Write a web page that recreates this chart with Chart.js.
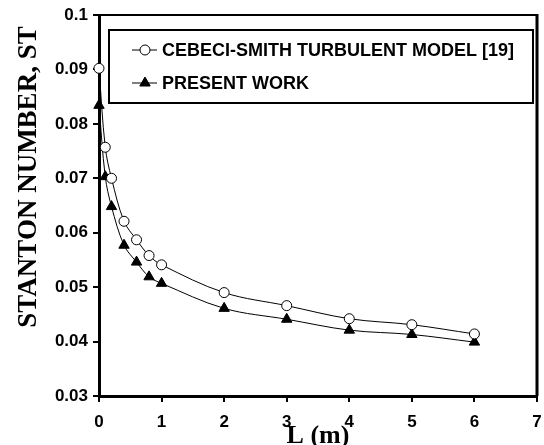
<!DOCTYPE html>
<html>
<head>
<meta charset="utf-8">
<script src="https://cdn.jsdelivr.net/npm/chart.js@4/dist/chart.umd.min.js"></script>
<style>
  html, body { margin: 0; padding: 0; background: #fff; }
  #wrap { width: 544px; height: 445px; }
</style>
</head>
<body>
<div id="wrap"><canvas id="chart" width="544" height="445"></canvas></div>
<script>
// data
const lengths = [0, 0.1, 0.2, 0.4, 0.6, 0.8, 1, 2, 3, 4, 5, 6];
const cebeciSmith = [0.0902, 0.0757, 0.0700, 0.0621, 0.0587, 0.0558, 0.0541, 0.0490, 0.0466, 0.0442, 0.0431, 0.0414];
const presentWork = [0.0834, 0.0703, 0.0648, 0.0577, 0.0546, 0.0519, 0.0507, 0.0461, 0.0441, 0.0421, 0.0413, 0.0399];
const seriesNames = ['CEBECI-SMITH TURBULENT MODEL [19]', 'PRESENT WORK'];
const xTicks = [0, 1, 2, 3, 4, 5, 6, 7];
const yTicks = [0.03, 0.04, 0.05, 0.06, 0.07, 0.08, 0.09, 0.1];
const xTitle = 'L (m)';
const yTitle = 'STANTON NUMBER, ST';

const sans = '"Liberation Sans", Arial, sans-serif';
const serif = '"Liberation Serif", "Times New Roman", serif';

const toPoints = (ys) => lengths.map((x, i) => ({ x: x, y: ys[i] }));

const series = [
  { label: seriesNames[0], data: toPoints(cebeciSmith), pointStyle: 'circle', pointRadius: 5, bg: '#fff' },
  { label: seriesNames[1], data: toPoints(presentWork), pointStyle: 'triangle', pointRadius: 6, bg: '#000' },
];

// top/right frame, axis titles and the boxed legend
const extras = {
  id: 'extras',
  beforeDatasetsDraw(chart) {
    const { ctx, chartArea: a } = chart;
    ctx.save();
    ctx.strokeStyle = '#000';
    ctx.lineWidth = 2;
    ctx.beginPath();
    ctx.moveTo(a.left, a.top);
    ctx.lineTo(a.right, a.top);
    ctx.stroke();
    ctx.lineWidth = 3;
    ctx.beginPath();
    ctx.moveTo(a.right, a.top - 1);
    ctx.lineTo(a.right, a.bottom);
    ctx.stroke();
    ctx.restore();
  },
  afterDraw(chart) {
    const { ctx, chartArea: a } = chart;
    ctx.save();
    ctx.fillStyle = '#000';
    ctx.font = 'bold 26px ' + serif;
    ctx.textAlign = 'center';
    ctx.textBaseline = 'alphabetic';
    ctx.fillText(xTitle, (a.left + a.right) / 2, 443);
    ctx.font = 'bold 27px ' + serif;
    ctx.save();
    ctx.translate(36, 177);
    ctx.rotate(-Math.PI / 2);
    ctx.fillText(yTitle, 0, 0);
    ctx.restore();

    // legend
    ctx.strokeStyle = '#000';
    ctx.lineWidth = 2;
    ctx.strokeRect(109, 30, 424, 73);
    chart.data.datasets.forEach((ds, i) => {
      const y = 50 + i * 33;
      ctx.lineWidth = 1;
      ctx.beginPath();
      ctx.moveTo(132, y);
      ctx.lineTo(157, y);
      ctx.stroke();
      ctx.fillStyle = ds.pointBackgroundColor;
      ctx.strokeStyle = '#000';
      Chart.helpers.drawPoint(ctx, {
        pointStyle: ds.pointStyle, radius: ds.pointRadius, borderWidth: 1, rotation: 0,
      }, 145, y);
      ctx.fillStyle = '#000';
      ctx.font = 'bold 18px ' + sans;
      ctx.textAlign = 'left';
      ctx.textBaseline = 'middle';
      ctx.fillText(ds.label, 162, y + 1);
    });
    ctx.restore();
  },
};

new Chart(document.getElementById('chart'), {
  type: 'scatter',
  data: {
    datasets: series.map((s) => ({
      label: s.label,
      data: s.data,
      showLine: true,
      borderColor: '#000',
      borderWidth: 1,
      tension: 0.35,
      pointStyle: s.pointStyle,
      pointRadius: s.pointRadius,
      pointHoverRadius: s.pointRadius,
      pointBackgroundColor: s.bg,
      pointBorderColor: '#000',
      pointBorderWidth: 1,
      clip: false,
    })),
  },
  options: {
    responsive: false,
    animation: false,
    devicePixelRatio: 1,
    layout: { padding: { left: 0, top: 15, right: 3, bottom: 0 } },
    plugins: {
      legend: { display: false },
      tooltip: { enabled: false },
    },
    scales: {
      x: {
        type: 'linear',
        min: xTicks[0],
        max: xTicks[xTicks.length - 1],
        afterBuildTicks: (s) => { s.ticks = xTicks.map((v) => ({ value: v })); },
        afterFit: (s) => { s.height = 49; s.paddingLeft = 0; s.paddingRight = 0; },
        ticks: {
          color: '#000',
          font: { family: sans, size: 17, weight: 'bold' },
          padding: 10,
          maxRotation: 0,
        },
        grid: { drawOnChartArea: false, drawTicks: true, tickLength: 6, color: '#000', lineWidth: 2 },
        border: { display: true, color: '#000', width: 3 },
      },
      y: {
        min: yTicks[0],
        max: yTicks[yTicks.length - 1],
        afterBuildTicks: (s) => { s.ticks = yTicks.map((v) => ({ value: v })); },
        afterFit: (s) => { s.width = 99; s.paddingTop = 0; s.paddingBottom = 0; },
        ticks: {
          color: '#000',
          font: { family: sans, size: 17, weight: 'bold' },
          padding: 5,
          callback: (v) => String(+v.toFixed(2)),
        },
        grid: { drawOnChartArea: false, drawTicks: true, tickLength: 6, color: '#000', lineWidth: 2 },
        border: { display: true, color: '#000', width: 3 },
      },
    },
  },
  plugins: [extras],
});
</script>
</body>
</html>
